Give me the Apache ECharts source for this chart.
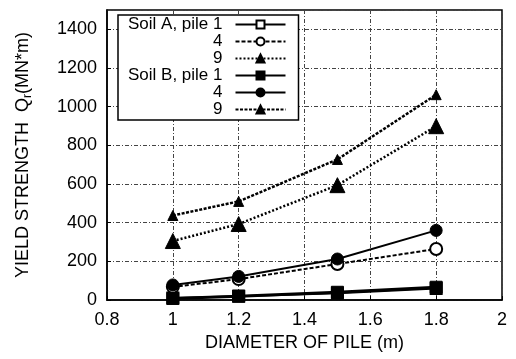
<!DOCTYPE html>
<html>
<head>
<meta charset="utf-8">
<script src="https://cdn.jsdelivr.net/npm/echarts@6/dist/echarts.min.js"></script>
<style>
  html, body { margin: 0; padding: 0; background: #fff; }
  #chart { width: 516px; height: 359px; }
</style>
</head>
<body>
<div id="chart"></div>
<script>
// pile diameter (m)
const diameters = [1.0, 1.2, 1.5, 1.8]

// yield strength Qr (MN*m)
const soilA_pile1 = [10, 20, 35, 60]
const soilA_pile4 = [68, 108, 186, 264]
const soilA_pile9 = [305, 393, 594, 899]
const soilB_pile1 = [8, 20, 40, 66]
const soilB_pile4 = [78, 122, 212, 360]
const soilB_pile9 = [437, 510, 727, 1062]

const legendLabels = {
  A1: 'Soil A, pile 1', A4: '4', A9: '9',
  B1: 'Soil B, pile 1', B4: '4', B9: '9'
}

const font = 'Liberation Sans, Arial, sans-serif'
const pairs = vals => diameters.map((d, i) => [d, vals[i]])

function mkSeries(name, vals, symbol, size, filled, dash, width) {
  return {
    name: name,
    type: 'line',
    data: pairs(vals),
    symbol: symbol,
    symbolSize: size,
    showSymbol: true,
    lineStyle: { color: '#000', width: width, type: dash },
    itemStyle: filled
      ? { color: '#000', borderColor: '#000', borderWidth: 1 }
      : { color: '#fff', borderColor: '#000', borderWidth: 2 },
    emphasis: { disabled: true },
    z: 3
  }
}

const chart = echarts.init(document.getElementById('chart'))
chart.setOption({
  animation: false,
  backgroundColor: '#fff',
  grid: {
    left: 107, right: 14, top: 10, bottom: 59,
    show: true, borderColor: '#000', borderWidth: 1.5
  },
  legend: {
    orient: 'vertical',
    align: 'right',
    left: 118, top: 15,
    padding: [1, 12, 2, 10],
    backgroundColor: '#fff',
    borderColor: '#000',
    borderWidth: 1.5,
    itemWidth: 50,
    itemHeight: 10,
    itemGap: 0,
    z: 10,
    formatter: n => legendLabels[n],
    textStyle: {
      fontFamily: font, fontSize: 17, lineHeight: 15, color: '#000',
      padding: [0, 8, 0, 0]
    },
    data: ['A1', 'A4', 'A9', 'B1', 'B4', 'B9']
  },
  xAxis: {
    type: 'value',
    min: 0.8, max: 2, interval: 0.2,
    name: 'DIAMETER OF PILE (m)',
    nameLocation: 'middle',
    nameGap: 33,
    nameTextStyle: { fontFamily: font, fontSize: 18, color: '#000' },
    axisLine: { lineStyle: { color: '#000', width: 1.5 } },
    axisTick: { inside: true, length: 4, lineStyle: { color: '#000' } },
    axisLabel: {
      fontFamily: font, fontSize: 18, color: '#000', margin: 11,
      formatter: v => String(+v.toFixed(1))
    },
    splitLine: { lineStyle: { color: '#444', width: 1, type: [4, 2, 1, 2] } }
  },
  yAxis: {
    type: 'value',
    min: 0, max: 1500, interval: 200,
    name: '{t|YIELD STRENGTH  Q}{s|r}{t|(MN*m)}',
    nameLocation: 'middle',
    nameGap: 73,
    nameTextStyle: {
      fontFamily: font, fontSize: 18, color: '#000',
      rich: {
        t: { fontFamily: font, fontSize: 18, color: '#000' },
        s: { fontFamily: font, fontSize: 12, color: '#000', padding: [9, 0, 0, 0] }
      }
    },
    axisLine: { lineStyle: { color: '#000', width: 1.5 } },
    axisTick: { inside: true, length: 4, lineStyle: { color: '#000' } },
    axisLabel: {
      fontFamily: font, fontSize: 18, color: '#000', margin: 10,
      showMaxLabel: false,
      formatter: v => String(v)
    },
    splitLine: { lineStyle: { color: '#444', width: 1, type: [4, 2, 1, 2] } }
  },
  series: [
    mkSeries('A1', soilA_pile1, 'rect', 11, false, 'solid', 2),
    mkSeries('A4', soilA_pile4, 'circle', 12, false, [4, 2], 2),
    mkSeries('A9', soilA_pile9, 'triangle', 15, true, [2, 2], 2.5),
    mkSeries('B1', soilB_pile1, 'rect', 12, true, 'solid', 3),
    mkSeries('B4', soilB_pile4, 'circle', 12, true, 'solid', 2),
    mkSeries('B9', soilB_pile9, 'triangle', 10, true, [3, 1.5], 2.5)
  ]
})
</script>
</body>
</html>
